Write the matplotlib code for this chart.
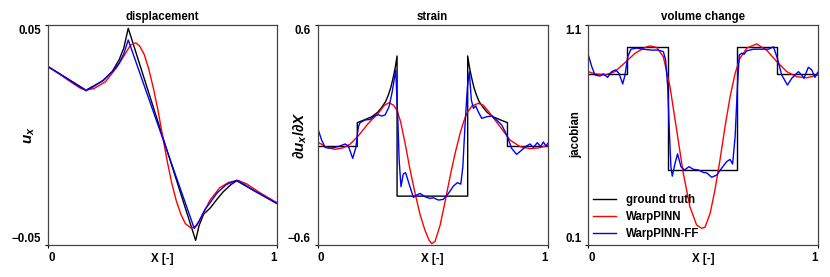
import matplotlib
matplotlib.use("Agg")
import matplotlib.pyplot as plt

# --- DATA ---

# displacement u_x
DISP_GT_X = [0.0, 0.05, 0.10, 0.165, 0.20, 0.24, 0.28, 0.31, 0.33, 0.35,
             0.645, 0.66, 0.68, 0.708, 0.74, 0.766, 0.80, 0.825, 0.86, 0.90, 0.95, 1.0]
DISP_GT_Y = [0.0310, 0.0278, 0.0246, 0.0204, 0.0224, 0.0247, 0.0289, 0.0342, 0.0394, 0.0485,
             -0.0479, -0.0412, -0.0360, -0.0333, -0.0290, -0.0258, -0.0225, -0.0208, -0.0229,
             -0.0252, -0.0282, -0.0311]

DISP_PINN_X = [0.0, 0.05, 0.10, 0.14, 0.165, 0.20, 0.25, 0.30, 0.34, 0.36, 0.383, 0.40, 0.42,
               0.44, 0.46, 0.48, 0.50, 0.52, 0.54, 0.56, 0.58, 0.60, 0.625, 0.65, 0.67, 0.708,
               0.75, 0.79, 0.83, 0.87, 0.92, 0.96, 1.0]
DISP_PINN_Y = [0.0310, 0.0276, 0.0240, 0.0213, 0.0205, 0.0211, 0.0242, 0.0308, 0.0375, 0.0409,
               0.0419, 0.0404, 0.0366, 0.0299, 0.0213, 0.0113, -0.0002, -0.0116, -0.0217,
               -0.0298, -0.0360, -0.0403, -0.0423, -0.0412, -0.0374, -0.0296, -0.0240, -0.0215,
               -0.0206, -0.0223, -0.0258, -0.0283, -0.0307]

DISP_FF_X = [0.0, 0.05, 0.10, 0.165, 0.20, 0.24, 0.28, 0.31, 0.33, 0.35, 0.42, 0.50, 0.58,
             0.639, 0.66, 0.685, 0.708, 0.74, 0.78, 0.825, 0.86, 0.90, 0.95, 1.0]
DISP_FF_Y = [0.0310, 0.0278, 0.0244, 0.0201, 0.0221, 0.0249, 0.0287, 0.0326, 0.0368, 0.0432,
             0.0224, -0.0013, -0.0250, -0.0425, -0.0391, -0.0340, -0.0308, -0.0262, -0.0225,
             -0.0206, -0.0226, -0.0253, -0.0281, -0.0310]

# strain du_x/dX
STRAIN_GT_X = [0.0, 0.172, 0.172, 0.20, 0.235, 0.26, 0.278, 0.295, 0.307, 0.318, 0.329, 0.337,
               0.345, 0.345, 0.652, 0.652, 0.66, 0.668, 0.679, 0.69, 0.702, 0.719, 0.737, 0.762,
               0.797, 0.825, 0.825, 1.0]
STRAIN_GT_Y = [-0.0626, -0.0626, 0.0674, 0.0811, 0.0997, 0.1232, 0.1505, 0.1818, 0.2180, 0.2600,
               0.3187, 0.3676, 0.4311, -0.3334, -0.3334, 0.4311, 0.3676, 0.3187, 0.2600, 0.2180,
               0.1818, 0.1505, 0.1232, 0.0997, 0.0811, 0.0674, -0.0626, -0.0626]

STRAIN_PINN_X = [0.0, 0.04, 0.075, 0.11, 0.14, 0.177, 0.22, 0.263, 0.29, 0.31, 0.33, 0.345, 0.36,
                 0.38, 0.40, 0.423, 0.445, 0.467, 0.485, 0.496, 0.51, 0.532, 0.555, 0.575, 0.597,
                 0.619, 0.635, 0.648, 0.67, 0.698, 0.72, 0.749, 0.793, 0.836, 0.88, 0.923, 0.96, 1.0]
STRAIN_PINN_Y = [-0.0381, -0.0675, -0.0782, -0.0704, -0.0508, -0.0039, 0.0635, 0.1183, 0.1623,
                 0.1760, 0.1623, 0.1329, 0.0743, -0.0460, -0.1799, -0.3168, -0.4341, -0.5221,
                 -0.5758, -0.5924, -0.5807, -0.4927, -0.3559, -0.2288, -0.1017, 0.0088, 0.0743,
                 0.1183, 0.1574, 0.1730, 0.1623, 0.1183, 0.0450, -0.0274, -0.0636, -0.0743,
                 -0.0704, -0.0577]

STRAIN_FF_X = [0.0, 0.017, 0.032, 0.053, 0.075, 0.097, 0.119, 0.133, 0.152, 0.165, 0.177, 0.184,
               0.206, 0.228, 0.246, 0.264, 0.278, 0.293, 0.310, 0.324, 0.339, 0.348, 0.354, 0.362,
               0.372, 0.382, 0.401, 0.416, 0.430, 0.445, 0.466, 0.488, 0.503, 0.525, 0.546, 0.568,
               0.590, 0.607, 0.622, 0.631, 0.640, 0.651, 0.659, 0.668, 0.677, 0.687, 0.698, 0.713,
               0.735, 0.757, 0.778, 0.800, 0.822, 0.843, 0.865, 0.887, 0.908, 0.923, 0.937, 0.955,
               0.969, 0.981, 0.992, 1.0]
STRAIN_FF_Y = [0.0362, -0.0274, -0.0675, -0.0724, -0.0675, -0.0596, -0.0489, -0.0596, -0.1271,
               -0.0724, 0.0450, 0.0674, 0.0821, 0.0850, 0.1036, 0.1105, 0.1036, 0.1095, 0.1544,
               0.2366, 0.3549, 0.0997, -0.1369, -0.2816, -0.2131, -0.2053, -0.2816, -0.3402,
               -0.3275, -0.3187, -0.3363, -0.3461, -0.3422, -0.3549, -0.3510, -0.3187, -0.2786,
               -0.2601, -0.2679, -0.1731, 0.0450, 0.2639, 0.3451, 0.1906, 0.1456, 0.1584, 0.1271,
               0.0909, 0.0997, 0.1036, 0.0821, 0.0547, 0.0000, -0.0724, -0.1056, -0.0821, -0.0596,
               -0.0489, -0.0675, -0.0421, -0.0636, -0.0381, -0.0596, -0.0460]

# volume change (jacobian)
JAC_GT_X = [0.0, 0.170, 0.170, 0.346, 0.346, 0.647, 0.647, 0.824, 0.824, 1.0]
JAC_GT_Y = [0.878, 0.878, 1.001, 1.001, 0.441, 0.441, 1.001, 1.001, 0.878, 0.878]

JAC_PINN_X = [0.0, 0.029, 0.073, 0.116, 0.160, 0.204, 0.247, 0.269, 0.298, 0.327, 0.356, 0.385,
              0.414, 0.443, 0.472, 0.494, 0.509, 0.531, 0.552, 0.574, 0.596, 0.618, 0.640, 0.661,
              0.691, 0.734, 0.777, 0.821, 0.865, 0.908, 0.952, 1.0]
JAC_PINN_Y = [0.888, 0.878, 0.873, 0.888, 0.929, 0.972, 0.998, 1.005, 0.998, 0.956, 0.820, 0.623,
              0.426, 0.274, 0.191, 0.176, 0.181, 0.244, 0.350, 0.487, 0.638, 0.774, 0.880, 0.949,
              0.995, 1.014, 0.986, 0.934, 0.888, 0.865, 0.860, 0.873]

JAC_FF_X = [0.0, 0.015, 0.029, 0.051, 0.065, 0.084, 0.102, 0.119, 0.134, 0.150, 0.160, 0.172,
            0.186, 0.211, 0.240, 0.276, 0.305, 0.327, 0.337, 0.346, 0.353, 0.360, 0.366, 0.378,
            0.389, 0.404, 0.419, 0.439, 0.458, 0.480, 0.501, 0.516, 0.538, 0.560, 0.581, 0.603,
            0.618, 0.629, 0.640, 0.650, 0.658, 0.669, 0.679, 0.691, 0.720, 0.749, 0.785, 0.807,
            0.824, 0.843, 0.868, 0.887, 0.916, 0.930, 0.940, 0.959, 0.974, 0.988, 1.0]
JAC_FF_Y = [0.964, 0.911, 0.873, 0.868, 0.878, 0.862, 0.888, 0.896, 0.880, 0.832, 0.873, 0.956,
            0.990, 0.995, 0.990, 0.986, 0.986, 0.979, 0.941, 0.820, 0.623, 0.456, 0.413, 0.471,
            0.514, 0.456, 0.441, 0.456, 0.444, 0.441, 0.430, 0.428, 0.408, 0.418, 0.449, 0.479,
            0.489, 0.468, 0.592, 0.820, 0.964, 0.972, 0.967, 0.983, 0.990, 0.990, 0.990, 1.001,
            0.949, 0.873, 0.827, 0.858, 0.888, 0.873, 0.858, 0.908, 0.896, 0.862, 0.885]

TITLES = ["displacement", "strain", "volume change"]
YLABELS = [r"$u_x$", r"$\partial u_x/\partial X$", "jacobian"]
YLIMS = [(-0.05, 0.05), (-0.6, 0.6), (0.1, 1.1)]
LEGEND_LABELS = ["ground truth", "WarpPINN", "WarpPINN-FF"]

# --- STYLE ---
FONT = "Liberation Sans"
FS = 8.3
FS_MATH = 11  # mathtext renders small, bump it to match the reference
COLORS = ["black", "red", "blue"]
LW = 1.0
SPINE_COLOR = "#444444"

# axes rectangles in figure fraction [left, bottom, width, height]
AX_RECTS = [
    [0.0582, 0.1155, 0.2752, 0.7942],
    [0.3828, 0.1155, 0.2771, 0.7942],
    [0.7088, 0.1155, 0.2764, 0.7942],
]
YLABEL_X = [-0.051, -0.0365, -0.026]


def style_axis(ax, title, ylabel, ylim, ylabel_x):
    ax.set_xlim(0, 1)
    ax.set_ylim(*ylim)
    ax.set_xticks([0, 1])
    ax.set_xticklabels(["0", "1"])
    ax.set_yticks(list(ylim))

    ax.tick_params(length=2, width=0.8, pad=3, labelsize=FS, colors="black")
    for lbl in ax.get_xticklabels() + ax.get_yticklabels():
        lbl.set_fontweight("bold")
        lbl.set_family(FONT)
    xl = ax.get_xticklabels()
    xl[0].set_ha("left")
    xl[-1].set_ha("right")
    yl = ax.get_yticklabels()
    yl[0].set_va("bottom")
    yl[-1].set_va("top")

    for sp in ax.spines.values():
        sp.set_color(SPINE_COLOR)
        sp.set_linewidth(0.9)

    ax.set_title(title, fontsize=FS, fontweight="bold", family=FONT, pad=3.5)
    ax.set_xlabel("X [-]", fontsize=FS, fontweight="bold", family=FONT)
    ax.xaxis.set_label_coords(0.5, -0.035)
    size = FS_MATH if ylabel.startswith("$") else FS
    ax.set_ylabel(ylabel, fontsize=size, fontweight="bold", family=FONT)
    ax.yaxis.set_label_coords(ylabel_x, 0.5)


def main():
    plt.rcParams["mathtext.fontset"] = "custom"
    plt.rcParams["mathtext.rm"] = "Liberation Sans:bold"
    plt.rcParams["mathtext.it"] = "Liberation Sans:bold:italic"
    plt.rcParams["mathtext.bf"] = "Liberation Sans:bold"

    fig = plt.figure(figsize=(8.3, 2.77), dpi=100)

    panels = [
        ((DISP_GT_X, DISP_GT_Y), (DISP_PINN_X, DISP_PINN_Y), (DISP_FF_X, DISP_FF_Y)),
        ((STRAIN_GT_X, STRAIN_GT_Y), (STRAIN_PINN_X, STRAIN_PINN_Y), (STRAIN_FF_X, STRAIN_FF_Y)),
        ((JAC_GT_X, JAC_GT_Y), (JAC_PINN_X, JAC_PINN_Y), (JAC_FF_X, JAC_FF_Y)),
    ]

    for i, series in enumerate(panels):
        ax = fig.add_axes(AX_RECTS[i])
        for (xs, ys), color, label in zip(series, COLORS, LEGEND_LABELS):
            ax.plot(xs, ys, color=color, lw=LW, label=label)
        style_axis(ax, TITLES[i], YLABELS[i], YLIMS[i], YLABEL_X[i])

        if i == 2:
            ax.legend(loc="lower left", frameon=False,
                      prop={"family": FONT, "weight": "bold", "size": FS},
                      handlelength=2.0, handletextpad=0.9, labelspacing=0.45,
                      borderaxespad=0.2, borderpad=0.2)

    fig.savefig("out.png", dpi=100)
    plt.close(fig)


if __name__ == "__main__":
    main()
